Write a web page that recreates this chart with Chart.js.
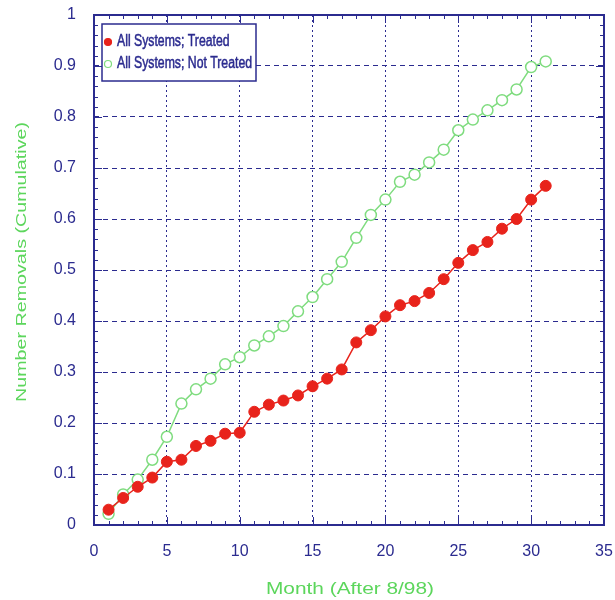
<!DOCTYPE html>
<html>
<head>
<meta charset="utf-8">
<script src="https://cdn.jsdelivr.net/npm/chart.js@4"></script>
<style>
  html, body { margin: 0; padding: 0; background: #fff; }
</style>
</head>
<body>
<canvas id="myChart" width="615" height="600"></canvas>
<script>
// months after 8/98
const months = [1, 2, 3, 4, 5, 6, 7, 8, 9, 10, 11, 12, 13, 14, 15, 16, 17, 18, 19, 20,
  21, 22, 23, 24, 25, 26, 27, 28, 29, 30, 31]

// cumulative removals
const treated = [0.03, 0.053, 0.075, 0.093, 0.124, 0.128, 0.155, 0.165, 0.179, 0.181,
  0.222, 0.236, 0.244, 0.254, 0.272, 0.287, 0.305, 0.358, 0.382, 0.409,
  0.431, 0.439, 0.455, 0.482, 0.514, 0.539, 0.555, 0.581, 0.600, 0.638, 0.665]
const notTreated = [0.022, 0.06, 0.089, 0.128, 0.173, 0.238, 0.266, 0.287, 0.315, 0.329,
  0.352, 0.37, 0.39, 0.419, 0.447, 0.482, 0.516, 0.563, 0.608, 0.638,
  0.673, 0.687, 0.711, 0.736, 0.774, 0.795, 0.813, 0.833, 0.854, 0.898, 0.909]

const seriesNames = ['All Systems; Treated', 'All Systems; Not Treated']
const xTitle = 'Month (After 8/98)'
const yTitle = 'Number Removals (Cumulative)'

const navy = '#2b2b8f'
const red = '#e8231b'
const green = '#7fdc7f'
const titleGreen = '#5cd65c'
const sans = '"Liberation Sans", Arial, sans-serif'

const toPoints = (ys) => months.map((m, i) => ({ x: m, y: ys[i] }))

// text stretched along its length to a given width (the original is a scaled bitmap)
function stretchedText(ctx, text, cx, cy, font, width, angle) {
  ctx.save()
  ctx.font = font
  ctx.textAlign = 'center'
  ctx.textBaseline = 'middle'
  ctx.translate(cx, cy)
  ctx.rotate(angle)
  ctx.scale(width / ctx.measureText(text).width, 1)
  ctx.fillText(text, 0, 0)
  ctx.restore()
}

// frame, inner minor ticks, axis titles and the boxed legend inside the plot
const decorations = {
  id: 'decorations',
  afterDraw(chart) {
    const ctx = chart.ctx
    const a = chart.chartArea
    const xs = chart.scales.x
    const ys = chart.scales.y
    ctx.save()
    ctx.strokeStyle = navy
    ctx.lineWidth = 1
    ctx.beginPath()
    for (let v = 0; v <= 35; v++) {
      const px = Math.round(xs.getPixelForValue(v)) + 0.5
      const len = v % 5 === 0 ? 8 : 4
      ctx.moveTo(px, a.bottom); ctx.lineTo(px, a.bottom - len)
      ctx.moveTo(px, a.top); ctx.lineTo(px, a.top + len)
    }
    for (let k = 0; k <= 50; k++) {
      const py = Math.round(ys.getPixelForValue(k * 0.02)) + 0.5
      const len = k % 5 === 0 ? 8 : 4
      ctx.moveTo(a.left, py); ctx.lineTo(a.left + len, py)
      ctx.moveTo(a.right, py); ctx.lineTo(a.right - len, py)
    }
    ctx.stroke()
    ctx.lineWidth = 2
    ctx.strokeRect(a.left, a.top, a.right - a.left, a.bottom - a.top)

    // axis titles
    ctx.fillStyle = titleGreen
    stretchedText(ctx, xTitle, 350, 589, '17px ' + sans, 168, 0)
    stretchedText(ctx, yTitle, 22, 262, '14px ' + sans, 280, -Math.PI / 2)

    // legend
    const bx = 102, by = 24, bw = 154, bh = 57
    ctx.fillStyle = '#fff'
    ctx.fillRect(bx, by, bw, bh)
    ctx.strokeStyle = navy
    ctx.lineWidth = 1.5
    ctx.strokeRect(bx, by, bw, bh)
    const lfont = '16px ' + sans
    ctx.font = lfont
    const squeeze = 135 / ctx.measureText(seriesNames[1]).width
    chart.data.datasets.forEach((ds, i) => {
      const cy = by + 18 + i * 22
      ctx.beginPath()
      ctx.arc(bx + 6, cy, 3.5, 0, Math.PI * 2)
      ctx.fillStyle = ds.pointBackgroundColor
      ctx.fill()
      ctx.strokeStyle = ds.pointBorderColor
      ctx.lineWidth = 1.2
      ctx.stroke()
      ctx.save()
      ctx.fillStyle = navy
      ctx.font = lfont
      ctx.textBaseline = 'middle'
      ctx.translate(bx + 15, cy)
      ctx.scale(squeeze, 1)
      ctx.fillText(ds.label, 0, 0)
      ctx.strokeStyle = navy
      ctx.lineWidth = 0.5
      ctx.strokeText(ds.label, 0, 0)
      ctx.restore()
    })
    ctx.restore()
  }
}

const data = {
  datasets: [
    {
      label: seriesNames[0],
      data: toPoints(treated),
      borderColor: red,
      borderWidth: 1.5,
      pointRadius: 5.5,
      pointBackgroundColor: red,
      pointBorderColor: red,
      pointBorderWidth: 1,
    },
    {
      label: seriesNames[1],
      data: toPoints(notTreated),
      borderColor: green,
      borderWidth: 1.5,
      pointRadius: 5.5,
      pointBackgroundColor: '#ffffff',
      pointBorderColor: green,
      pointBorderWidth: 1.5,
    },
  ],
}

const config = {
  type: 'line',
  data: data,
  options: {
    responsive: false,
    animation: false,
    layout: { padding: { top: 15, right: 11 } },
    plugins: {
      legend: { display: false },
      tooltip: { enabled: false },
    },
    scales: {
      x: {
        type: 'linear',
        min: 0,
        max: 35,
        afterFit: (s) => { s.height = 75; s.paddingLeft = 0; s.paddingRight = 0 },
        ticks: {
          stepSize: 5,
          color: navy,
          padding: 17,
          font: { family: sans, size: 16 },
        },
        grid: {
          color: navy,
          lineWidth: 1,
          drawTicks: false,
        },
        border: { display: false, dash: [2, 3] },
      },
      y: {
        min: 0,
        max: 1,
        afterFit: (s) => { s.width = 94; s.paddingTop = 0; s.paddingBottom = 0 },
        ticks: {
          stepSize: 0.1,
          color: navy,
          padding: 18,
          font: { family: sans, size: 16 },
          callback: (v) => String(Number(v.toFixed(1))),
        },
        grid: {
          color: navy,
          lineWidth: 1,
          drawTicks: false,
        },
        border: { display: false, dash: [5, 4] },
      },
    },
  },
  plugins: [decorations],
}

const myChart = new Chart(document.getElementById('myChart'), config)
</script>
</body>
</html>
